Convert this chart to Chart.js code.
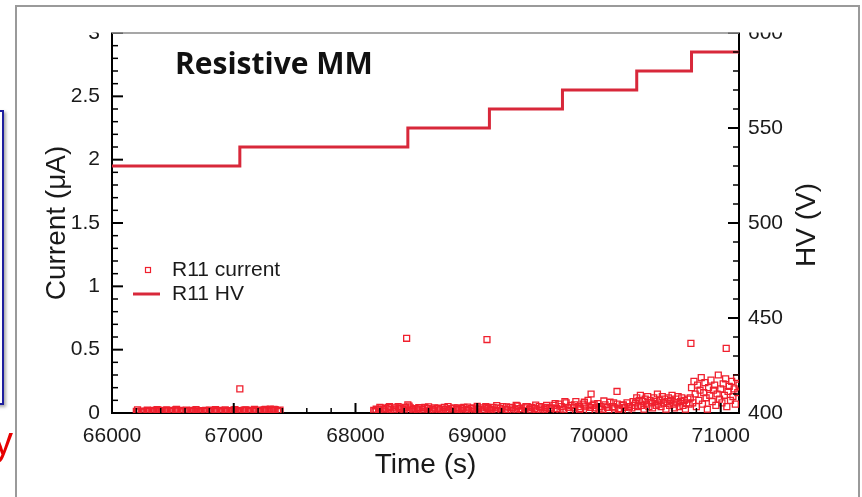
<!DOCTYPE html>
<html>
<head>
<meta charset="utf-8">
<script src="https://cdn.jsdelivr.net/npm/chart.js@4/dist/chart.umd.min.js"></script>
<style>
html,body{margin:0;padding:0;background:#fff;}
#wrap{position:relative;width:862px;height:497px;overflow:hidden;background:#fff;}
#chart{position:absolute;left:0;top:0;}
#frame{position:absolute;left:15px;top:5px;width:841px;height:600px;border:2px solid #9a9a9a;pointer-events:none;}
#bluebox{position:absolute;left:-20px;top:110px;width:20px;height:291px;border:2px solid #1f1f9e;box-shadow:2px 2px 3px #aaa;}
#ytxt{position:absolute;left:-7px;top:421px;font:40px "Liberation Sans",Arial,sans-serif;line-height:40px;color:#e60000;}
</style>
</head>
<body>
<div id="wrap">
<canvas id="chart" width="862" height="497"></canvas>
<div id="bluebox"></div>
<div id="ytxt">y</div>
<div id="frame"></div>
</div>
<script>
// ---- data ----
const hvTime = [66000, 67050, 68430, 69100, 69700, 70310, 70760, 71150];
const hvVolt = [530, 540, 550, 560, 570, 580, 590, 590];

const currentTime = [
66200,66220,66240,66260,66280,66300,66320,66340,66360,66380,
66400,66420,66440,66460,66480,66500,66520,66540,66560,66580,
66600,66620,66640,66660,66680,66700,66720,66740,66760,66780,
66800,66820,66840,66860,66880,66900,66920,66940,66960,66980,
67000,67020,67040,67060,67080,67100,67120,67140,67160,67180,
67200,67220,67240,67260,67280,67300,67320,67340,67360,67380,
68150,68170,68190,68210,68230,68250,68270,68290,68310,68330,
68350,68370,68390,68410,68430,68450,68470,68490,68510,68530,
68550,68570,68590,68610,68630,68650,68670,68690,68710,68730,
68750,68770,68790,68810,68830,68850,68870,68890,68910,68930,
68950,68970,68990,
69010,69030,69050,69070,69090,69110,69130,69150,69170,69190,
69210,69230,69250,69270,69290,69310,69330,69350,69370,69390,
69410,69430,69450,69470,69490,69510,69530,69550,69570,69590,
69610,69630,69650,69670,69690,69710,69730,69750,69770,69790,
69810,69830,69850,69870,69890,69910,69930,69950,69970,69990,
70010,70030,70050,70070,70090,70110,70130,70150,70170,70190,
70210,70230,70250,70270,70290,
70300,70310,70320,70330,70340,70350,70360,70370,70380,70390,
70400,70410,70420,70430,70440,70450,70460,70470,70480,70490,
70500,70510,70520,70530,70540,70550,70560,70570,70580,70590,
70600,70610,70620,70630,70640,70650,70660,70670,70680,70690,
70700,70710,70720,70730,70740,
70750,70760,70770,70780,70790,70800,70810,70820,70830,70840,
70850,70860,70870,70880,70890,70900,70910,70920,70930,70940,
70950,70960,70970,70980,70990,71000,71010,71020,71030,71040,
71050,71060,71070,71080,71090,71100,71110,71120,71130,71140,
71150
];
const currentValue = [
.012,.010,.015,.011,.013,.018,.014,.020,.016,.022,
.018,.015,.020,.017,.013,.019,.024,.016,.021,.014,
.018,.012,.017,.020,.015,.011,.016,.019,.013,.017,
.022,.015,.012,.018,.021,.014,.017,.013,.019,.016,
.023,.014,.018,.012,.020,.025,.017,.021,.014,.019,
.016,.022,.018,.028,.024,.030,.022,.026,.019,.023,
.020,.030,.025,.040,.030,.035,.045,.030,.025,.040,
.050,.035,.030,.045,.065,.040,.030,.035,.025,.040,
.030,.045,.035,.020,.030,.040,.035,.025,.030,.045,
.030,.020,.035,.040,.030,.025,.035,.045,.030,.020,
.035,.040,.030,
.030,.040,.025,.050,.035,.030,.045,.020,.040,.035,
.050,.030,.025,.045,.040,.030,.055,.035,.020,.040,
.050,.030,.045,.035,.025,.050,.040,.030,.060,.035,
.040,.060,.035,.070,.050,.030,.080,.045,.060,.040,
.090,.050,.035,.070,.055,.100,.045,.060,.040,.075,
.050,.030,.065,.045,.085,.050,.040,.070,.035,.060,
.045,.080,.050,.040,.060,
.080,.120,.050,.100,.140,.060,.090,.030,.110,.070,
.130,.050,.100,.080,.040,.120,.090,.060,.150,.070,
.100,.050,.130,.080,.110,.030,.090,.120,.060,.100,
.140,.070,.040,.110,.080,.130,.050,.090,.120,.060,
.100,.030,.080,.110,.070,
.120,.200,.080,.250,.150,.050,.220,.100,.180,.280,
.070,.160,.240,.120,.030,.200,.140,.260,.090,.180,
.220,.060,.150,.300,.110,.190,.080,.230,.140,.270,
.050,.170,.210,.100,.250,.130,.190,.070,.280,.160,
.220
];
// extra readings in between (the band is very dense)
const denseTime = [
66210,66250,66290,66330,66370,66410,66450,66490,66530,66570,
66610,66650,66690,66730,66770,66810,66850,66890,66930,66970,
67010,67050,67090,67130,67170,67210,67250,67290,67330,67370,
68160,68200,68240,68280,68320,68360,68400,68440,68480,68520,
68560,68600,68640,68680,68720,68760,68800,68840,68880,68920,
68960,69000,69040,69080,69120,69160,69200,69240,69280,69320,
69360,69400,69440,69480,69520,69560,69600,69640,69680,69720,
69760,69800,69840,69880,69920,69960,70000,70040,70080,70120,
70160,70200,70240,70280
];
const denseValue = [
.025,.008,.022,.012,.027,.009,.024,.013,.028,.010,
.023,.015,.026,.009,.021,.012,.027,.010,.024,.014,
.026,.009,.022,.012,.028,.011,.025,.015,.029,.012,
.010,.045,.015,.050,.012,.040,.018,.055,.015,.042,
.010,.048,.016,.038,.012,.050,.014,.040,.018,.046,
.012,.052,.015,.044,.020,.058,.014,.048,.018,.060,
.016,.050,.012,.062,.020,.045,.015,.075,.020,.090,
.018,.065,.025,.085,.020,.070,.030,.095,.022,.080,
.025,.065,.020,.090
];
// isolated spikes
const spikeTime  = [67050, 68420, 69080, 69935, 70148, 70755, 71045];
const spikeValue = [0.19, 0.59, 0.58, 0.15, 0.17, 0.55, 0.51];

const xTickValues = [66000, 67000, 68000, 69000, 70000, 71000];
const leftTickValues = [0, 0.5, 1, 1.5, 2, 2.5, 3];
const rightTickValues = [400, 450, 500, 550, 600];

const seriesNames = ['R11 current', 'R11 HV'];
const titleText = 'Resistive MM';
const rightAxisTitle = 'HV (V)';

// ---- chart ----
const FONT = '"Liberation Sans", Arial, Helvetica, sans-serif';
const RED_PTS = '#f0202e';
const RED_LINE = '#d8283a';

const toXY = (ts, vs) => ts.map((t, i) => ({x: t, y: vs[i]}));
const currentData = toXY(currentTime, currentValue)
  .concat(toXY(denseTime, denseValue))
  .concat(toXY(spikeTime, spikeValue));
const hvData = toXY(hvTime, hvVolt);

const decorPlugin = {
  id: 'decor',
  afterDatasetsDraw(chart) {
    const ctx = chart.ctx, a = chart.chartArea;
    const sx = chart.scales.x, sy = chart.scales.y, sr = chart.scales.y1;
    ctx.save();
    ctx.strokeStyle = '#000';
    const seg = (x1, y1, x2, y2, w) => { ctx.lineWidth = w; ctx.beginPath(); ctx.moveTo(x1, y1); ctx.lineTo(x2, y2); ctx.stroke(); };
    for (let v = sx.min; v <= sx.max; v += 200) {
      const major = xTickValues.includes(v);
      const p = sx.getPixelForValue(v);
      seg(p, a.bottom, p, a.bottom - (major ? 10 : 5), major ? 2 : 1.5);
    }
    for (let i = 0; i <= 30; i++) {
      const v = i / 10; const major = i % 5 === 0;
      const p = sy.getPixelForValue(v);
      seg(a.left - (major ? 1 : 0), p, a.left + (major ? 11 : 6), p, major ? 2 : 1.5);
    }
    for (let v = 400; v <= 600; v += 10) {
      const major = rightTickValues.includes(v);
      const p = sr.getPixelForValue(v);
      seg(a.right, p, a.right - (major ? 11 : 6), p, major ? 2 : 1.5);
    }
    ctx.restore();
  },
  afterDraw(chart) {
    const ctx = chart.ctx, a = chart.chartArea;
    ctx.save();
    ctx.fillStyle = '#fff';
    ctx.fillRect(0, 0, chart.width, a.top - 0.5);
    ctx.strokeStyle = '#8a8a8a'; ctx.lineWidth = 1.5;
    ctx.beginPath(); ctx.moveTo(a.left, a.top); ctx.lineTo(a.right, a.top); ctx.stroke();
    // title inside plot
    ctx.fillStyle = '#111';
    ctx.font = 'bold 30px "Open Sans", "DejaVu Sans", sans-serif';
    ctx.textBaseline = 'middle'; ctx.textAlign = 'left';
    ctx.fillText(titleText, a.left + 63, a.top + 32);
    // right axis title, reading bottom-to-top like the reference
    ctx.save();
    ctx.font = '28px ' + FONT; ctx.fillStyle = '#1a1a1a'; ctx.textAlign = 'center';
    ctx.translate(a.right + 68, (a.top + a.bottom) / 2 + 2);
    ctx.rotate(-Math.PI / 2);
    ctx.fillText(rightAxisTitle, 0, 0);
    ctx.restore();
    // legend
    const ds0 = chart.data.datasets[0], ds1 = chart.data.datasets[1];
    ctx.font = '21px ' + FONT; ctx.fillStyle = '#1a1a1a'; ctx.textAlign = 'left';
    const lx = a.left + 36, ly1 = a.top + 237, ly2 = a.top + 261;
    ctx.strokeStyle = ds0.borderColor; ctx.lineWidth = 1.2;
    ctx.strokeRect(lx - 2.5, ly1 - 2.5, 5, 5);
    ctx.fillText(ds0.label, a.left + 60, ly1);
    ctx.strokeStyle = ds1.borderColor; ctx.lineWidth = 3;
    ctx.beginPath(); ctx.moveTo(a.left + 21, ly2); ctx.lineTo(a.left + 48, ly2); ctx.stroke();
    ctx.fillText(ds1.label, a.left + 60, ly2);
    ctx.restore();
  }
};

new Chart(document.getElementById('chart'), {
  type: 'scatter',
  data: {
    datasets: [
      {
        label: seriesNames[0], data: currentData, yAxisID: 'y',
        pointStyle: 'rect', pointRadius: 4.2, borderWidth: 1.3,
        borderColor: RED_PTS, backgroundColor: 'rgba(0,0,0,0)', showLine: false
      },
      {
        label: seriesNames[1], data: hvData, yAxisID: 'y1',
        showLine: true, stepped: true, pointRadius: 0,
        borderColor: RED_LINE, borderWidth: 3, backgroundColor: RED_LINE, fill: false
      }
    ]
  },
  options: {
    responsive: false, animation: false, devicePixelRatio: 1,
    layout: {padding: {top: 33, left: 0, right: 0, bottom: 0}},
    plugins: {legend: {display: false}, tooltip: {enabled: false}, title: {display: false}},
    scales: {
      x: {
        type: 'linear', position: 'bottom', min: 66000, max: 71150,
        afterFit: s => { s.height = 84; },
        afterBuildTicks: s => { s.ticks = xTickValues.map(v => ({value: v})); },
        ticks: {color: '#1a1a1a', font: {family: FONT, size: 21}, padding: 11, maxRotation: 0, autoSkip: false,
                callback: v => String(v)},
        grid: {display: false, drawTicks: false},
        border: {display: true, color: '#000', width: 2},
        title: {display: true, text: 'Time (s)', color: '#1a1a1a', font: {family: FONT, size: 28}, padding: {top: 0, bottom: 15}}
      },
      y: {
        type: 'linear', position: 'left', min: 0, max: 3,
        afterFit: s => { s.width = 112; },
        afterBuildTicks: s => { s.ticks = leftTickValues.map(v => ({value: v})); },
        ticks: {color: '#1a1a1a', font: {family: FONT, size: 21}, padding: 12, autoSkip: false,
                callback: v => String(v)},
        grid: {display: false, drawTicks: false},
        border: {display: true, color: '#000', width: 2},
        title: {display: true, text: 'Current (\u03BCA)', color: '#1a1a1a', font: {family: FONT, size: 28}, padding: {top: 40, bottom: 0}}
      },
      y1: {
        type: 'linear', position: 'right', min: 400, max: 600,
        afterFit: s => { s.width = 123; },
        afterBuildTicks: s => { s.ticks = rightTickValues.map(v => ({value: v})); },
        ticks: {color: '#1a1a1a', font: {family: FONT, size: 21}, padding: 9, autoSkip: false,
                callback: v => String(v)},
        grid: {display: false, drawTicks: false},
        border: {display: true, color: '#000', width: 2},
        title: {display: false}
      }
    }
  },
  plugins: [decorPlugin]
});
</script>
</body>
</html>
